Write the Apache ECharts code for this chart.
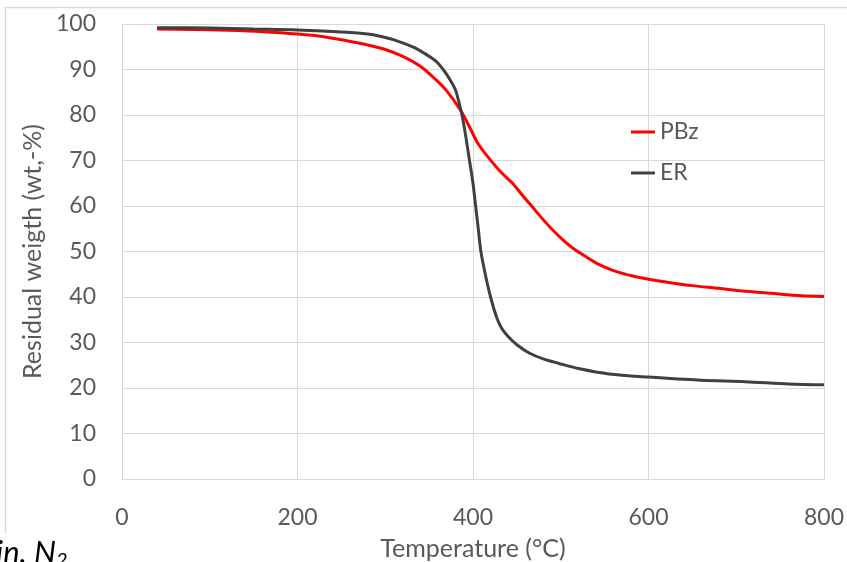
<!DOCTYPE html>
<html>
<head>
<meta charset="utf-8">
<title>TGA</title>
<script src="https://cdn.jsdelivr.net/npm/echarts@6/dist/echarts.min.js"></script>
<style>
  html, body { margin: 0; padding: 0; background: #fff; }
  #chart { width: 847px; height: 562px; }
</style>
</head>
<body>
<div id="chart"></div>
<script>
// temperature (°C) / residual weight (wt-%) pairs
const pbzTemp = [40, 80, 120, 160, 200, 230, 256, 280, 300, 320, 340, 358, 370, 385, 395, 404, 412, 419, 432, 445, 457, 466, 475, 487, 500, 514, 530, 544, 560, 582, 600, 620, 650, 680, 707, 740, 764, 800]
const pbzWeight = [98.9, 98.8, 98.6, 98.3, 97.8, 97.2, 96.3, 95.4, 94.4, 92.9, 90.7, 87.7, 85.3, 81.3, 77.8, 74.3, 72, 70.3, 67.4, 65, 62.2, 60.2, 58.1, 55.5, 53, 50.7, 48.7, 47.1, 45.8, 44.6, 43.9, 43.3, 42.5, 41.9, 41.3, 40.8, 40.4, 40.1]

const erTemp = [40, 100, 150, 200, 256, 280, 294, 310, 332, 345, 358, 366, 373, 380, 385, 388, 392, 396, 400, 403, 406, 409, 414, 420, 427, 433, 440, 450, 464, 480, 498, 520, 555, 600, 660, 710, 760, 800]
const erWeight = [99.2, 99.1, 98.9, 98.7, 98.2, 97.8, 97.3, 96.5, 94.9, 93.5, 91.8, 90, 88, 85.5, 82, 79.5, 75, 70, 65, 60, 55, 50, 45, 40, 35.5, 33, 31.3, 29.5, 27.7, 26.4, 25.4, 24.3, 23.1, 22.4, 21.7, 21.4, 20.9, 20.7]

const seriesNames = ['PBz', 'ER']
const seriesColors = ['#ff0000', '#404040']

const xTicks = [0, 200, 400, 600, 800]
const yTicks = [0, 10, 20, 30, 40, 50, 60, 70, 80, 90, 100]

const pair = (xs, ys) => xs.map((x, i) => [x, ys[i]])

const chart = echarts.init(document.getElementById('chart'))

const font = 'Lato, "Open Sans", sans-serif'
const gridColor = '#d9d9d9'
const textColor = '#595959'

const option = {
  animation: false,
  textStyle: { fontFamily: font },
  grid: { left: 122, right: 23, top: 24, bottom: 83, outerBoundsMode: 'none', containLabel: false },
  legend: {
    orient: 'vertical',
    left: 631,
    top: 120,
    padding: 0,
    icon: 'rect',
    itemWidth: 24,
    itemHeight: 3,
    itemGap: 17,
    data: seriesNames,
    textStyle: { fontSize: 23, color: textColor, fontFamily: font, lineHeight: 24 }
  },
  xAxis: {
    type: 'value',
    min: xTicks[0],
    max: xTicks[xTicks.length - 1],
    interval: 200,
    name: 'Temperature (°C)',
    nameLocation: 'middle',
    nameGap: 57,
    nameTextStyle: { fontSize: 25, color: textColor },
    axisLine: { show: true, lineStyle: { color: gridColor } },
    axisTick: { show: false },
    axisLabel: { fontSize: 23, color: textColor, margin: 27 },
    splitLine: { show: true, lineStyle: { color: gridColor } }
  },
  yAxis: {
    type: 'value',
    min: yTicks[0],
    max: yTicks[yTicks.length - 1],
    interval: 10,
    name: 'Residual weigth (wt,-%)',
    nameLocation: 'middle',
    nameGap: 75,
    nameTextStyle: { fontSize: 25, color: textColor },
    axisLine: { show: true, lineStyle: { color: gridColor } },
    axisTick: { show: false },
    axisLabel: { fontSize: 23, color: textColor, margin: 26 },
    splitLine: { show: true, lineStyle: { color: gridColor } }
  },
  graphic: [
    {
      type: 'polyline',
      shape: { points: [[5.5, 533], [5.5, 7.5], [860, 7.5]] },
      style: { stroke: gridColor, fill: null, lineWidth: 1.5 },
      silent: true
    },
    {
      type: 'text',
      left: -4,
      top: 537,
      style: {
        text: '{a|in. N}{s|2}',
        rich: {
          a: { fontSize: 31, fontStyle: 'italic', fontFamily: font, fill: '#000' },
          s: { fontSize: 20, fontStyle: 'italic', fontFamily: font, fill: '#000', padding: [16, 0, 0, 0] }
        }
      }
    }
  ],
  series: [
    {
      name: seriesNames[0],
      type: 'line',
      data: pair(pbzTemp, pbzWeight),
      smooth: 0.3,
      showSymbol: false,
      lineStyle: { color: seriesColors[0], width: 3 },
      itemStyle: { color: seriesColors[0] },
      z: 3
    },
    {
      name: seriesNames[1],
      type: 'line',
      data: pair(erTemp, erWeight),
      smooth: 0.3,
      showSymbol: false,
      lineStyle: { color: seriesColors[1], width: 3 },
      itemStyle: { color: seriesColors[1] },
      z: 4
    }
  ]
}

chart.setOption(option)
</script>
</body>
</html>
